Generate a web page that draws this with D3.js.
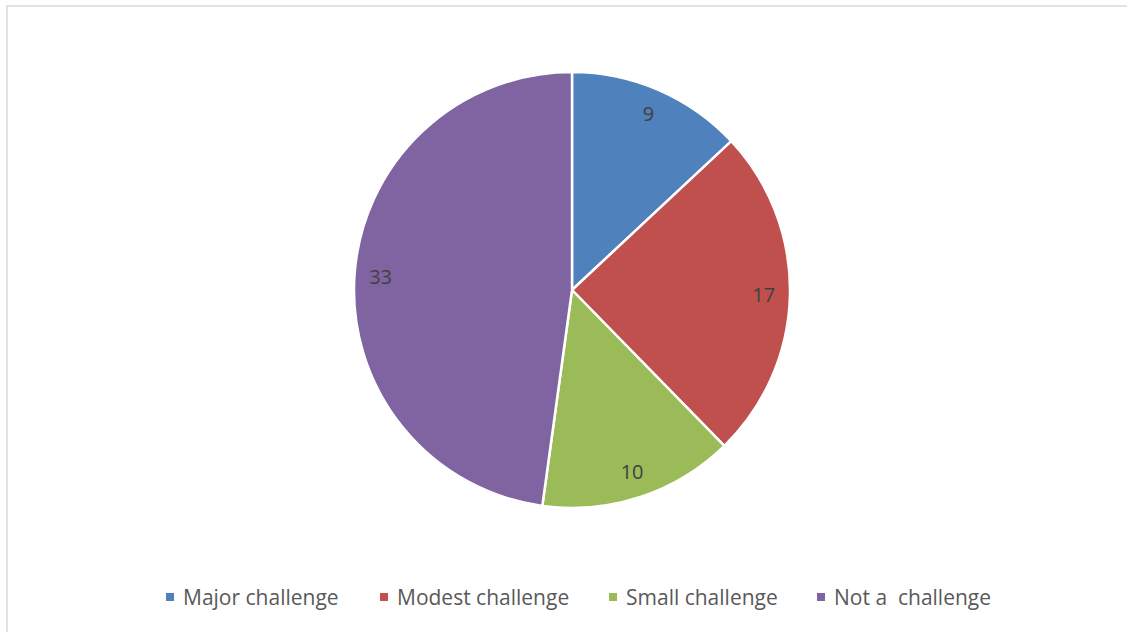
<!DOCTYPE html>
<html>
<head>
<meta charset="utf-8">
<script src="https://cdn.jsdelivr.net/npm/d3@7"></script>
<style>
  html, body { margin: 0; padding: 0; background: #fff; }
  svg { display: block; }
</style>
</head>
<body>
<svg id="chart" width="1127" height="632"></svg>
<script>
// Survey responses by challenge level
const categories = ["Major challenge", "Modest challenge", "Small challenge", "Not a  challenge"];
const values = [9, 17, 10, 33];
const colors = ["#4f81bd", "#c0504d", "#9bbb59", "#8064a2"];

const width = 1127, height = 632;
const cx = 572, cy = 290, radius = 218;

const svg = d3.select("#chart");

// chart frame
svg.append("rect")
  .attr("x", 7).attr("y", 6)
  .attr("width", width + 20).attr("height", height + 20)
  .attr("fill", "#fff")
  .attr("stroke", "#d9d9d9")
  .attr("stroke-width", 1.5);

const data = categories.map((c, i) => ({ name: c, value: values[i], color: colors[i] }));

const pie = d3.pie().value(d => d.value).sort(null);
const arcs = pie(data);
const arc = d3.arc().innerRadius(0).outerRadius(radius);
const labelArc = d3.arc().innerRadius(radius * 0.88).outerRadius(radius * 0.88);

const g = svg.append("g").attr("transform", `translate(${cx},${cy})`);

g.selectAll("path.slice")
  .data(arcs)
  .join("path")
  .attr("class", "slice")
  .attr("d", arc)
  .attr("fill", d => d.data.color)
  .attr("stroke", "#fff")
  .attr("stroke-width", 2.5)
  .attr("stroke-linejoin", "round");

g.selectAll("text.value")
  .data(arcs)
  .join("text")
  .attr("class", "value")
  .attr("transform", d => `translate(${labelArc.centroid(d)})`)
  .attr("text-anchor", "middle")
  .attr("dy", "0.36em")
  .attr("font-family", "'Open Sans', sans-serif")
  .attr("font-size", 20)
  .attr("fill", "#404040")
  .text(d => d.data.value);

// legend
const legendX = [166, 380, 609, 817];
const legendY = 597;
const legend = svg.append("g");
const items = legend.selectAll("g.item")
  .data(data)
  .join("g")
  .attr("class", "item")
  .attr("transform", (d, i) => `translate(${legendX[i]},${legendY})`);

items.append("rect")
  .attr("x", 0).attr("y", -4)
  .attr("width", 8).attr("height", 8)
  .attr("fill", d => d.color);

items.append("text")
  .attr("x", 17)
  .attr("y", 8)
  .attr("font-family", "'Open Sans', sans-serif")
  .attr("font-size", 21)
  .attr("fill", "#595959")
  .style("white-space", "pre")
  .attr("xml:space", "preserve")
  .text(d => d.name);
</script>
</body>
</html>
